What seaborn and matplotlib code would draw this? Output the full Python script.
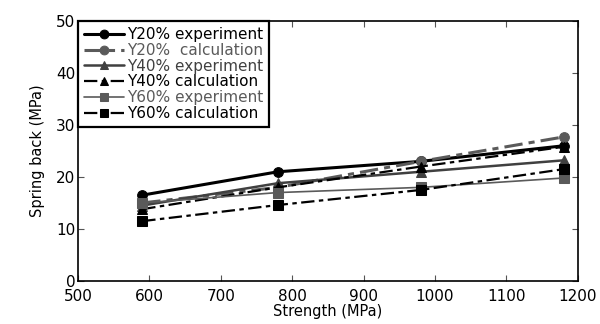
import pandas as pd
import matplotlib
matplotlib.use('Agg')
import matplotlib.pyplot as plt
import seaborn as sns

sns.set_style('ticks')
plt.rcParams['font.family'] = ['DejaVu Sans']

strength = [590, 780, 980, 1180]
y20_exp = [16.5, 21.0, 23.0, 26.0]
y20_calc = [15.0, 18.0, 23.0, 27.7]
y40_exp = [14.5, 18.8, 21.0, 23.2]
y40_calc = [13.8, 18.0, 22.0, 25.8]
y60_exp = [15.0, 17.0, 18.0, 19.8]
y60_calc = [11.5, 14.6, 17.5, 21.5]

labels = ['Y20% experiment', 'Y20%  calculation', 'Y40% experiment',
          'Y40% calculation', 'Y60% experiment', 'Y60% calculation']
series = [y20_exp, y20_calc, y40_exp, y40_calc, y60_exp, y60_calc]

# style per series: colour, line width, dash, marker
styles = [
    ('black', 2.2, '-', 'o'),
    ('#5a5a5a', 2.2, (0, (6, 2, 2, 2)), 'o'),
    ('#404040', 1.8, '-', '^'),
    ('black', 1.6, (0, (6, 2, 2, 2)), '^'),
    ('#5a5a5a', 1.2, '-', 's'),
    ('black', 1.6, (0, (6, 2, 2, 2)), 's'),
]
text_colors = ['black', '#5a5a5a', '#404040', 'black', '#5a5a5a', 'black']

rows = []
for lab, vals in zip(labels, series):
    for x, v in zip(strength, vals):
        rows.append({'Strength': x, 'Spring back': v, 'series': lab})
df = pd.DataFrame(rows)

fig = plt.figure(figsize=(6, 3.24), dpi=100)
ax = fig.add_axes([0.13, 0.133, 0.833, 0.802])

for lab, (c, lw, ls, m) in zip(labels, styles):
    sns.lineplot(data=df[df['series'] == lab], x='Strength', y='Spring back',
                 color=c, linewidth=lw, linestyle=ls, marker=m, markersize=7,
                 markeredgecolor=c, label=lab, ax=ax)

ax.set_xlim(500, 1200)
ax.set_ylim(0, 50)
ax.set_xticks(range(500, 1201, 100))
ax.set_yticks(range(0, 51, 10))
ax.tick_params(direction='in', top=True, right=True, length=4, width=0.8,
               color='#555555', labelsize=11, labelcolor='black', pad=2)
ax.tick_params(axis='x', pad=6)
for s in ax.spines.values():
    s.set_linewidth(1.2)
    s.set_color('black')
ax.set_xlabel('Strength (MPa)', fontsize=10.5, labelpad=0, color='black')
ax.set_ylabel('Spring back (MPa)', fontsize=10.5, labelpad=8, color='black')

leg = ax.legend(loc='upper left', frameon=True, fancybox=False, fontsize=11,
                borderaxespad=0, handlelength=2.6, handletextpad=0.2,
                labelspacing=0.05, borderpad=0.4, markerscale=0.9)
leg.get_frame().set_edgecolor('black')
leg.get_frame().set_linewidth(1.6)
leg.get_frame().set_alpha(1)
for t, c in zip(leg.get_texts(), text_colors):
    t.set_color(c)

fig.savefig('out.png', dpi=100)
